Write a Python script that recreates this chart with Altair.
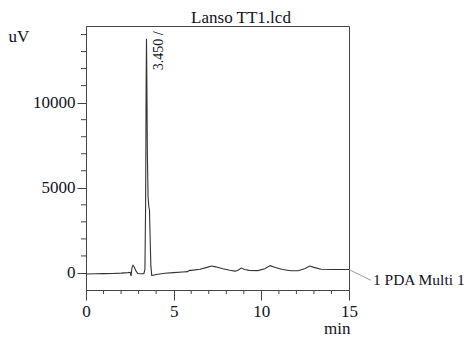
import altair as alt
import pandas as pd

times = [0.0, 0.5, 1.0, 1.5, 2.0, 2.4, 2.52, 2.57, 2.62, 2.68, 2.75, 2.85, 2.95, 3.1, 3.3,
         3.36, 3.4, 3.43, 3.45, 3.47, 3.5, 3.54, 3.58, 3.62, 3.66, 3.7, 3.75, 3.85, 4.0, 4.5,
         5.0, 5.5, 5.8, 5.9, 6.0, 6.5, 6.9, 7.15, 7.4, 7.8, 8.2, 8.5, 8.65, 8.85, 9.05,
         9.3, 9.8, 10.2, 10.5, 10.8, 11.2, 11.7, 12.1, 12.5, 12.75, 13.0, 13.4, 14.0, 14.5, 15.0]
signal = [-60, -50, -40, -30, -10, 20, 40, -180, 300, 450, 350, 120, -30, -50, -40,
          200, 4000, 11000, 13750, 11500, 7000, 4500, 3900, 3700, 2000, 400, -140, -130, -90, -20,
          20, 60, 80, 160, 150, 220, 330, 410, 360, 250, 160, 110, 150, 290, 200,
          150, 140, 250, 430, 320, 200, 130, 130, 260, 410, 330, 220, 200, 200, 200]

x_minor = [1, 2, 3, 4, 6, 7, 8, 9, 11, 12, 13, 14]
x_major = [0, 5, 10, 15]
y_minor = [1000, 2000, 3000, 4000, 6000, 7000, 8000, 9000, 11000, 12000, 13000, 14000]
y_major = [0, 5000, 10000]
peak_time = 3.45
peak_label = "3.450 /"
trace_label = "1 PDA Multi 1"
title_text = "Lanso TT1.lcd"

df = pd.DataFrame({"t": times, "v": signal})
FONT = "Liberation Serif"
INK = "#111122"
AX = "#444444"

xs = alt.Scale(domain=[0, 15], nice=False)
ys = alt.Scale(domain=[-1000, 14500], nice=False)

x_enc = alt.X("t:Q", scale=xs,
              axis=alt.Axis(values=x_major, title="min", format="d",
                            tickSize=10, labelPadding=3, grid=False, labelOverlap=False,
                            labelFlush=False,
                            titleX=264, titleY=43, titleAlign="right", titleBaseline="alphabetic"))
y_enc = alt.Y("v:Q", scale=ys,
              axis=alt.Axis(values=y_major, title="uV", format="d",
                            tickSize=9, labelPadding=2, grid=False,
                            labelOverlap=False, labelFlush=False,
                            titleAngle=0, titleX=-78, titleY=15, titleAlign="left",
                            titleBaseline="alphabetic"))

line = alt.Chart(df).mark_line(color="#333333", strokeWidth=1.1).encode(x=x_enc, y=y_enc)

ymin = alt.Chart(pd.DataFrame({"v": y_minor})).mark_rule(color=AX, strokeWidth=1).encode(
    y=alt.Y("v:Q", scale=ys), x=alt.value(-5), x2=alt.value(0))
xmin = alt.Chart(pd.DataFrame({"t": x_minor})).mark_rule(color=AX, strokeWidth=1).encode(
    x=alt.X("t:Q", scale=xs), y=alt.value(264), y2=alt.value(268))

peak = alt.Chart(pd.DataFrame({"t": [peak_time], "v": [11900], "s": [peak_label]})).mark_text(
    angle=270, align="left", baseline="top", dy=6, font=FONT, fontSize=14, color=INK
).encode(x="t:Q", y="v:Q", text="s:N")

leader = alt.Chart(pd.DataFrame({"t": [15.0], "v": [200], "t2": [16.25], "v2": [-430]})).mark_rule(
    color="#999999", strokeWidth=1
).encode(x="t:Q", y="v:Q", x2="t2:Q", y2="v2:Q")

trace = alt.Chart(pd.DataFrame({"t": [16.25], "v": [-430], "s": [trace_label]})).mark_text(
    align="left", baseline="middle", dx=2, font=FONT, fontSize=15.5, color=INK
).encode(x="t:Q", y="v:Q", text="s:N")

ttl = alt.Chart(pd.DataFrame({"t": [8.84], "v": [14500], "s": [title_text]})).mark_text(
    align="center", baseline="alphabetic", dy=-3.5, font=FONT, fontSize=17, color=INK
).encode(x="t:Q", y="v:Q", text="s:N")

chart = alt.layer(line, ymin, xmin, peak, leader, trace, ttl).properties(
    width=263, height=264,
    autosize=alt.AutoSizeParams(type="none"),
    padding={"left": 78, "top": 18, "right": 116, "bottom": 46},
).configure_view(stroke=AX, strokeWidth=1).configure_axis(
    domainColor=AX, tickColor=AX, labelColor=INK, titleColor=INK,
    labelFont=FONT, titleFont=FONT, labelFontSize=17, titleFontSize=17,
    titleFontWeight="normal", domainWidth=1, tickWidth=1
)

chart.save("out.html", embed_options={"renderer": "svg", "actions": False})
